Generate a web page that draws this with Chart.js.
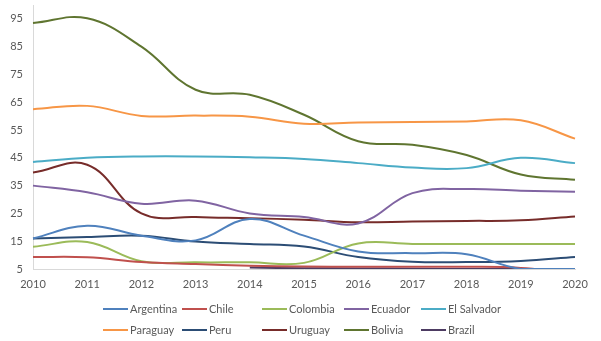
<!DOCTYPE html>
<html>
<head>
<meta charset="utf-8">
<script src="https://cdn.jsdelivr.net/npm/chart.js@4.4.1/dist/chart.umd.min.js"></script>
<style>
  body { margin: 0; background: #fff; }
  canvas { display: block; }
</style>
</head>
<body>
<canvas id="myChart" width="601" height="341"></canvas>
<script>
const years = ['2010', '2011', '2012', '2013', '2014', '2015', '2016', '2017', '2018', '2019', '2020'];

const argentina = [16, 20.6, 17, 15.3, 23, 17, 11.3, 10.7, 10.3, 5, 5];
const chile = [9.3, 9.2, 7.5, 6.8, 6.2, 5.9, 5.8, 5.8, 5.8, 5.4, 3.5];
const colombia = [13, 14.7, 7.8, 7.4, 7.4, 7.2, 14.2, 14, 14, 14, 14];
const ecuador = [35, 32.6, 28.5, 29.6, 25, 23.7, 21.4, 32.3, 33.8, 33.2, 32.8];
const elSalvador = [43.5, 45, 45.5, 45.5, 45.2, 44.6, 43.1, 41.5, 41.3, 45, 43.1];
const paraguay = [62.5, 63.7, 60.1, 60.2, 59.8, 57.3, 57.7, 57.9, 58.1, 58.5, 51.9];
const peru = [16, 16.5, 17, 14.9, 14, 13.1, 9.3, 7.6, 7.5, 7.9, 9.3];
const uruguay = [39.7, 42.5, 25, 23.7, 23.3, 22.7, 21.8, 22.1, 22.3, 22.5, 23.9];
const bolivia = [93.5, 95.2, 85, 69.5, 67.7, 60.5, 51, 49.7, 46, 39, 37.1];
const brazil = [null, null, null, null, 5.5, 5.3, 5.2, 5.1, 5, 5, 5];

const yTicks = [5, 15, 25, 35, 45, 55, 65, 75, 85, 95];

const style = {
  font: "Lato, 'Open Sans', sans-serif",
  text: '#595959',
  axis: '#d9d9d9'
};

// legend columns/rows like the excel grid legend
const legendCols = [103, 182, 262, 344, 421];
const legendRows = [309, 330];

const series = [
  { label: 'Argentina', data: argentina, color: '#4f81bd' },
  { label: 'Chile', data: chile, color: '#c0504d' },
  { label: 'Colombia', data: colombia, color: '#9bbb59' },
  { label: 'Ecuador', data: ecuador, color: '#8064a2' },
  { label: 'El Salvador', data: elSalvador, color: '#4bacc6' },
  { label: 'Paraguay', data: paraguay, color: '#f79646' },
  { label: 'Peru', data: peru, color: '#2c4d75' },
  { label: 'Uruguay', data: uruguay, color: '#772c2a' },
  { label: 'Bolivia', data: bolivia, color: '#5f7530' },
  { label: 'Brazil', data: brazil, color: '#4d3b62' }
];

const gridLegend = {
  id: 'gridLegend',
  afterDraw(chart) {
    const ctx = chart.ctx;
    ctx.save();
    ctx.font = '11px ' + style.font;
    ctx.textBaseline = 'middle';
    ctx.fillStyle = style.text;
    chart.data.datasets.forEach((ds, i) => {
      const x = legendCols[i % 5];
      const y = legendRows[Math.floor(i / 5)];
      ctx.strokeStyle = ds.borderColor;
      ctx.lineWidth = 2;
      ctx.beginPath();
      ctx.moveTo(x, y);
      ctx.lineTo(x + 25, y);
      ctx.stroke();
      ctx.fillText(ds.label, x + 27, y);
    });
    ctx.restore();
  }
};

const data = {
  labels: years,
  datasets: series.map(s => ({
    label: s.label,
    data: s.data,
    borderColor: s.color,
    backgroundColor: s.color,
    borderWidth: 2,
    tension: 0.4,
    pointRadius: 0,
    spanGaps: false
  }))
};

const config = {
  type: 'line',
  data,
  options: {
    responsive: false,
    animation: false,
    layout: { padding: { left: 0, right: 26, top: 5, bottom: 0 } },
    plugins: {
      legend: { display: false },
      tooltip: { enabled: false }
    },
    scales: {
      x: {
        offset: false,
        grid: { display: false, drawTicks: false },
        border: { color: style.axis, width: 1 },
        ticks: { color: style.text, font: { family: style.font, size: 11 }, padding: 9, maxRotation: 0, autoSkip: false },
        afterFit: scale => { scale.height = 72; }
      },
      y: {
        min: 5,
        max: 100,
        grid: { display: false, drawTicks: false },
        border: { color: style.axis, width: 1 },
        ticks: { color: style.text, font: { family: style.font, size: 11 }, padding: 10, stepSize: 10 },
        afterBuildTicks: scale => { scale.ticks = yTicks.map(v => ({ value: v })); },
        afterFit: scale => {
          scale.width = 33;
          scale.paddingTop = 0;
          scale.paddingBottom = 0;
        }
      }
    }
  },
  plugins: [gridLegend]
};

// create graph
const myChart = new Chart(document.getElementById('myChart'), config);
</script>
</body>
</html>
